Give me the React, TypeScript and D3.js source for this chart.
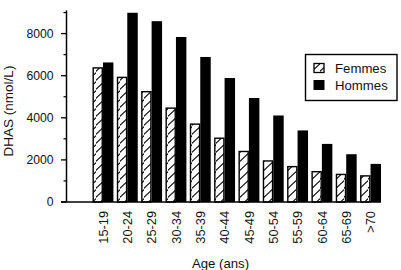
import React from "react";
import * as d3 from "d3";

const ageGroups = ["15-19", "20-24", "25-29", "30-34", "35-39", "40-44", "45-49", "50-54", "55-59", "60-64", "65-69", ">70"];
const femmes = [6370, 5920, 5240, 4460, 3700, 3030, 2400, 1950, 1680, 1440, 1310, 1240];
const hommes = [6630, 8990, 8590, 7840, 6890, 5890, 4940, 4110, 3400, 2760, 2270, 1810];
const yTicks = [0, 2000, 4000, 6000, 8000];
const yMinorTicks = [1000, 3000, 5000, 7000, 9000];
const seriesNames = ["Femmes", "Hommes"];

const W = 401;
const H = 270;
const axisX = 66.5;
const baseY = 202;
const font = "'Liberation Sans', Arial, Helvetica, sans-serif";

export default function App() {
  const y = d3.scaleLinear().domain([0, 8000]).range([baseY, 33.6]);
  const x = d3.scaleBand<string>().domain(ageGroups).range([92.5, 381]).paddingInner(0.14).paddingOuter(0);
  const sub = d3.scaleBand<string>().domain(seriesNames).range([0, x.bandwidth()]).padding(0);
  const bw = sub.bandwidth();
  const topY = y(9100);

  return (
    <svg width={W} height={H} style={{ position: "absolute", left: 0, top: 0, background: "#fff" }} fontFamily={font}>
      <defs>
        <pattern id="hatch" patternUnits="userSpaceOnUse" width="8" height="9">
          <path d="M-2,10 L10,-1" stroke="#000" strokeWidth="1.1" />
        </pattern>
      </defs>

      {/* bars */}
      {ageGroups.map((g, i) => {
        const gx = x(g)!;
        const fx = gx + sub("Femmes")!;
        const hx = gx + sub("Hommes")!;
        return (
          <g key={g}>
            <rect x={fx + 0.7} y={y(femmes[i])} width={bw - 1.4} height={baseY - y(femmes[i])} fill="url(#hatch)" stroke="#000" strokeWidth={1.4} />
            <rect x={hx} y={y(hommes[i])} width={bw} height={baseY - y(hommes[i])} fill="#000" />
          </g>
        );
      })}

      {/* axes */}
      <line x1={axisX} x2={axisX} y1={topY} y2={baseY} stroke="#000" strokeWidth={1.5} />
      <line x1={61} x2={381} y1={baseY} y2={baseY} stroke="#000" strokeWidth={1.6} />
      {yTicks.map((t) => (
        <g key={t}>
          <line x1={axisX - 5.5} x2={axisX} y1={y(t)} y2={y(t)} stroke="#000" strokeWidth={1.3} />
          <text x={53.5} y={y(t) + 4.3} textAnchor="end" fontSize={12.2} fill="#111">{t}</text>
        </g>
      ))}
      {yMinorTicks.map((t) => (
        <line key={t} x1={axisX - 3} x2={axisX} y1={y(t)} y2={y(t)} stroke="#000" strokeWidth={1.2} />
      ))}

      {/* x labels */}
      {ageGroups.map((g) => {
        const cx = x(g)! + x.bandwidth() / 2 + 4.8;
        return (
          <text key={g} transform={`translate(${cx},211) rotate(-90)`} textAnchor="end" fontSize={12.8} fill="#111">{g}</text>
        );
      })}

      {/* axis titles */}
      <text transform="translate(13,111) rotate(-90)" textAnchor="middle" fontSize={13.5} fill="#111">DHAS (nmol/L)</text>
      <text x={220.5} y={267.5} textAnchor="middle" fontSize={13.2} fill="#111">Age (ans)</text>

      {/* legend */}
      <rect x={305.5} y={54.5} width={91.5} height={46} fill="#fff" stroke="#000" strokeWidth={1.4} />
      <rect x={314} y={63.5} width={10} height={9} fill="url(#hatch)" stroke="#000" strokeWidth={1.3} />
      <text x={335} y={72.5} fontSize={13.2} fill="#111">{seriesNames[0]}</text>
      <rect x={313.5} y={80} width={11} height={10} fill="#000" />
      <text x={335} y={89.5} fontSize={13.2} fill="#111">{seriesNames[1]}</text>
    </svg>
  );
}
